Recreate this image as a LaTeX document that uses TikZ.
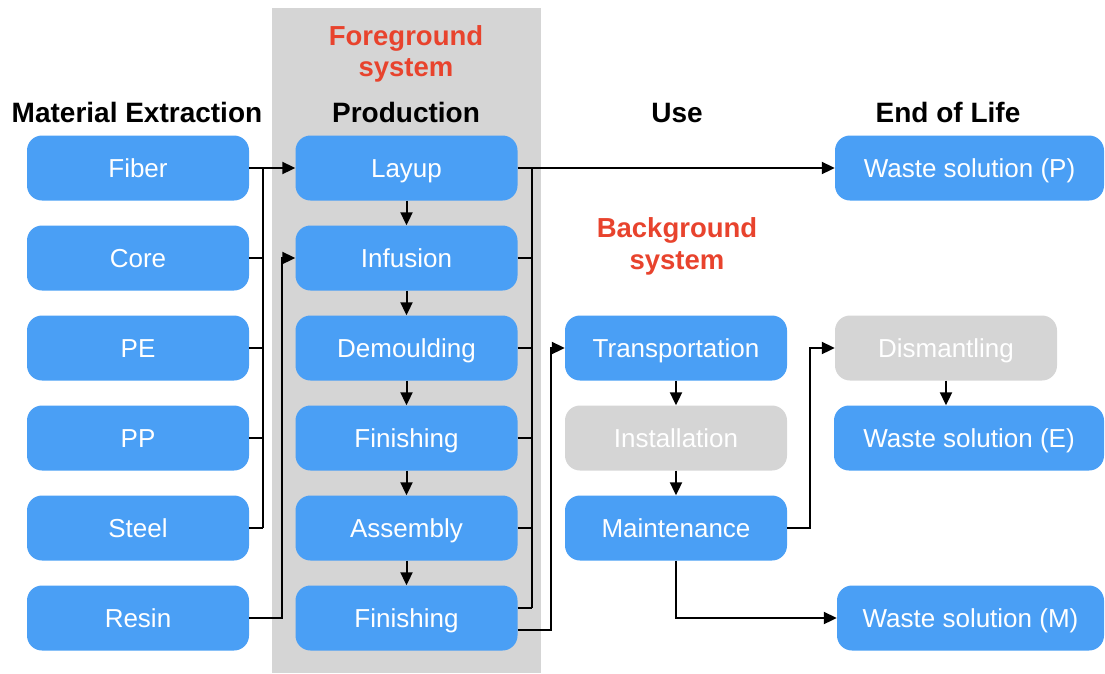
\documentclass[tikz,border=0pt]{standalone}
\usepackage{fontspec}
\setmainfont{Liberation Sans}
\usetikzlibrary{arrows.meta}
\definecolor{boxblue}{HTML}{4A9FF5}
\definecolor{bggray}{HTML}{D5D5D5}
\definecolor{titlered}{HTML}{E8432D}
\begin{document}
\begin{tikzpicture}[x=1pt,y=-1pt,
  box/.style={rounded corners=15pt, fill=boxblue, text=white, minimum width=222pt,
    minimum height=65pt, inner sep=0pt, text height=18.6pt, text depth=0pt,
    font=\fontsize{26}{30}\selectfont},
  gbox/.style={box, fill=bggray},
  hdr/.style={font=\fontsize{28}{32}\selectfont\bfseries, text=black, anchor=base, inner sep=0pt},
  redtitle/.style={font=\fontsize{27.5}{32}\selectfont\bfseries, text=titlered, anchor=base, inner sep=0pt},
  conn/.style={line width=2pt, draw=black},
  arr/.style={conn, -{Triangle[length=13pt,width=12pt]}}
]
\useasboundingbox (0,0) rectangle (1105,673);
\fill[bggray] (272,8) rectangle (541,673);

% headers
\node[hdr] (h1) at (137,122) {Material Extraction};
\node[hdr] (h2) at (406,122) {Production};
\node[hdr] (h3) at (677,122) {Use};
\node[hdr] (h4) at (948,122) {End of Life};
\node[redtitle] (fg1) at (406,45) {Foreground};
\node[redtitle] (fg2) at (406,76) {system};
\node[redtitle] (bg1) at (677,237) {Background};
\node[redtitle] (bg2) at (677,269) {system};

% material extraction
\node[box] (fiber) at (138,168) {Fiber};
\node[box] (core)  at (138,258) {Core};
\node[box] (pe)    at (138,348) {PE};
\node[box] (pp)    at (138,438) {PP};
\node[box] (steel) at (138,528) {Steel};
\node[box] (resin) at (138,618) {Resin};

% production
\node[box] (layup)    at (406.5,168) {Layup};
\node[box] (infusion) at (406.5,258) {Infusion};
\node[box] (demould)  at (406.5,348) {Demoulding};
\node[box] (finishA)  at (406.5,438) {Finishing};
\node[box] (assembly) at (406.5,528) {Assembly};
\node[box] (finishB)  at (406.5,618) {Finishing};

% use
\node[box]  (transp)  at (676,348) {Transportation};
\node[gbox] (install) at (676,438) {Installation};
\node[box]  (maint)   at (676,528) {Maintenance};

% end of life
\node[box, minimum width=269pt]  (wasteP)  at (969.5,168) {Waste solution (P)};
\node[gbox] (dismant) at (946,348) {Dismantling};
\node[box, minimum width=270pt]  (wasteE)  at (969,438) {Waste solution (E)};
\node[box, minimum width=267pt]  (wasteM)  at (970.5,618) {Waste solution (M)};

% bus coordinates
\coordinate (lb) at (263,0);
\coordinate (rbx) at (282,0);
\coordinate (pb) at (532,0);
\coordinate (tb) at (551,0);
\coordinate (mb) at (810,0);

% left bus
\draw[arr] (fiber.east) -- (layup.west);
\draw[conn] (fiber.east -| lb) -- (steel.east -| lb);
\draw[conn] (core.east) -- (core.east -| lb);
\draw[conn] (pe.east) -- (pe.east -| lb);
\draw[conn] (pp.east) -- (pp.east -| lb);
\draw[conn] (steel.east) -- (steel.east -| lb);
\draw[arr] (resin.east) -- (resin.east -| rbx) |- (infusion.west);

% production chain
\draw[arr] (layup.south) -- (infusion.north);
\draw[arr] (infusion.south) -- (demould.north);
\draw[arr] (demould.south) -- (finishA.north);
\draw[arr] (finishA.south) -- (assembly.north);
\draw[arr] (assembly.south) -- (finishB.north);

% right bus
\draw[arr] (layup.east) -- (wasteP.west);
\draw[conn] (layup.east -| pb) -- ([yshift=10pt]finishB.east -| pb);
\draw[conn] (infusion.east) -- (infusion.east -| pb);
\draw[conn] (demould.east) -- (demould.east -| pb);
\draw[conn] (finishA.east) -- (finishA.east -| pb);
\draw[conn] (assembly.east) -- (assembly.east -| pb);
\draw[conn] ([yshift=10pt]finishB.east) -- ([yshift=10pt]finishB.east -| pb);
\draw[arr] ([yshift=-12pt]finishB.east) -- ([yshift=-12pt]finishB.east -| tb) |- (transp.west);

% use chain
\draw[arr] (transp.south) -- (install.north);
\draw[arr] (install.south) -- (maint.north);
\draw[arr] (maint.east) -- (maint.east -| mb) |- (dismant.west);
\draw[arr] (maint.south) |- (wasteM.west);
\draw[arr] (dismant.south) -- (dismant.south |- wasteE.north);
\end{tikzpicture}
\end{document}
